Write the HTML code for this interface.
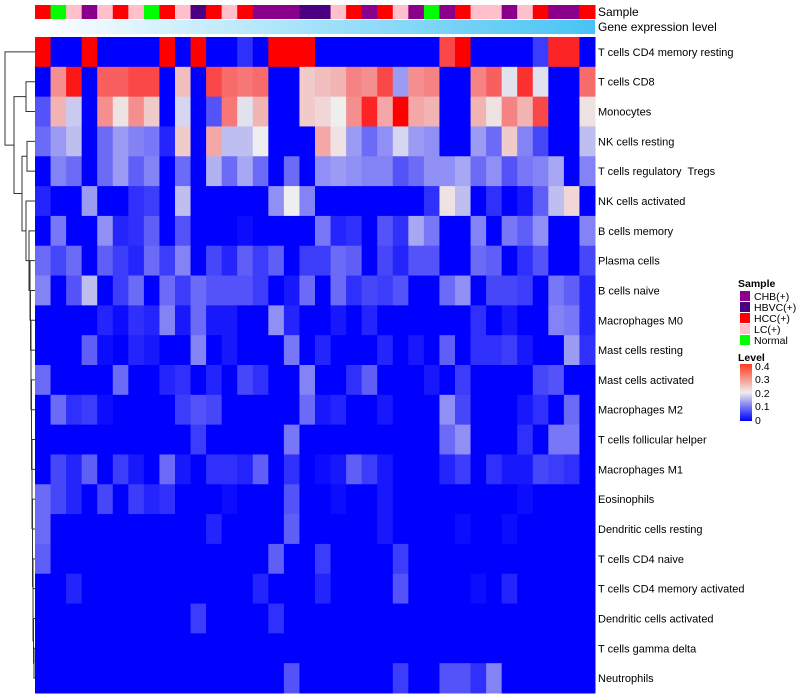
<!DOCTYPE html>
<html><head><meta charset="utf-8"><style>
html,body{margin:0;padding:0;background:#fff;}
svg{display:block;font-family:"Liberation Sans",sans-serif;}
#rowlabels text{white-space:pre;}
</style></head><body>
<svg id="chart" width="800" height="700" viewBox="0 0 800 700">
<defs>
<linearGradient id="geneGrad" x1="0" x2="1" y1="0" y2="0"><stop offset="0" stop-color="#ffffff"/><stop offset="1" stop-color="#48c4f4"/></linearGradient>
<linearGradient id="levelGrad" x1="0" x2="0" y1="1" y2="0"><stop offset="0" stop-color="#0000ff"/><stop offset="0.5" stop-color="#eeeeee"/><stop offset="1" stop-color="#ff3b1f"/></linearGradient>
</defs>
<rect x="35" y="20" width="560" height="14" fill="url(#geneGrad)"/>
<g id="cells"></g>
<g id="samplebar"></g>
<g id="rowlabels"></g>
<g id="dendro" stroke="#333" stroke-width="1" fill="none"></g>
<text x="598" y="16" font-size="12">Sample</text>
<text x="598" y="31" font-size="12">Gene expression level</text>
<g font-size="10.5">
<text x="738" y="287" font-weight="bold">Sample</text>
<rect x="740" y="291" width="10" height="10" fill="#8b008b"/><text x="754" y="300">CHB(+)</text>
<rect x="740" y="302" width="10" height="10" fill="#4b0082"/><text x="754" y="311">HBVC(+)</text>
<rect x="740" y="313" width="10" height="10" fill="#ff0000"/><text x="754" y="322">HCC(+)</text>
<rect x="740" y="324" width="10" height="10" fill="#ffc0cb"/><text x="754" y="333">LC(+)</text>
<rect x="740" y="335" width="10" height="10" fill="#00ff00"/><text x="754" y="344">Normal</text>
<text x="738" y="361" font-weight="bold">Level</text>
<rect x="740" y="364" width="12" height="57" fill="url(#levelGrad)"/>
<text x="755" y="370">0.4</text>
<text x="755" y="383">0.3</text>
<text x="755" y="397">0.2</text>
<text x="755" y="410">0.1</text>
<text x="755" y="424">0</text>
</g>
</svg>
<script>
const rowNames = ["T cells CD4 memory resting","T cells CD8","Monocytes","NK cells resting","T cells regulatory  Tregs","NK cells activated","B cells memory","Plasma cells","B cells naive","Macrophages M0","Mast cells resting","Mast cells activated","Macrophages M2","T cells follicular helper","Macrophages M1","Eosinophils","Dendritic cells resting","T cells CD4 naive","T cells CD4 memory activated","Dendritic cells activated","T cells gamma delta","Neutrophils"];
const sampleGroups = ["HCC","Normal","LC","CHB","LC","HCC","LC","Normal","HCC","LC","HBVC","HCC","LC","HCC","CHB","CHB","CHB","HBVC","HBVC","LC","HCC","CHB","HCC","LC","CHB","Normal","CHB","HCC","LC","LC","CHB","LC","HCC","CHB","CHB","HCC"];
const groupColors = {CHB:"#8b008b",HBVC:"#4b0082",HCC:"#ff0000",LC:"#ffc0cb",Normal:"#00ff00"};
const r00=[.4,0,0,.4,0,0,0,0,.4,0,.4,0,0,.04,0,.4,.4,.4, 0,0,0,0,0,0,0,0,.34,.4,0,0,0,0,.05,.37,.37,0];
const r01=[0,.28,.38,0,.32,.32,.34,.34,0,.24,0,.34,.31,.3,.31,0,0,.23, .24,.25,.29,.28,.34,.13,.28,.29,0,0,.29,.32,.19,.36,.19,0,0,.31];
const r02=[.07,.25,.17,0,.28,.21,.28,.23,0,.18,0,.07,.3,.19,.25,0,0,.23, .22,.2,.28,.37,.26,.4,.26,.25,0,0,.25,.21,.29,.25,.34,0,0,.21];
const r03=[.09,.13,.16,0,.09,.13,.11,.1,.03,.23,0,.26,.16,.16,.2,0,0,0, .26,.21,.13,.09,.12,.18,.13,.12,0,0,.13,.09,.23,.11,.06,0,0,.16];
const r04=[0,.11,.09,0,.09,.13,.08,.11,0,.09,0,.15,.09,.14,.09,0,.09,0, .12,.13,.12,.11,.11,.07,.09,.12,.12,.14,.09,.12,.07,.1,.11,.14,0,.11];
const r05=[.03,0,0,.13,0,0,.04,.05,0,.16,0,0,0,0,0,.12,.2,.11, 0,0,0,0,0,0,0,.04,.21,.16,0,.04,0,.02,.08,.16,.22,0];
const r06=[0,.1,0,0,.12,.03,.04,.08,0,.07,0,0,0,.01,0,0,0,0, .1,.03,.04,0,.07,.04,.14,.1,0,0,.11,0,.1,.08,.12,0,0,.11];
const r07=[.09,.06,.09,0,.08,.05,.03,.09,.05,.11,0,.06,.03,.08,.05,.08,0,.05, .05,.09,.08,0,.06,.03,.07,.07,0,0,.09,.08,0,.04,.07,0,0,.06];
const r08=[.11,0,.07,.16,0,.05,.09,0,.09,.05,.09,.07,.07,.07,.05,0,.02,.09, 0,.09,.04,.06,.05,.07,0,0,.09,.12,0,.06,.06,.05,0,.1,.08,.03];
const r09=[0,0,0,0,.03,.01,.04,.03,.11,.02,.09,.02,.02,0,0,.12,.03,0, 0,.02,0,.03,0,0,0,0,0,0,.04,0,.02,0,0,.11,.1,.03];
const r10=[0,0,0,.08,.01,0,.03,.02,0,0,.11,0,.02,0,0,0,.1,0, .03,0,0,0,.03,0,.02,0,.08,0,.04,.04,.05,.02,0,0,.13,.04];
const r11=[.09,0,0,0,0,.09,0,0,.03,.04,0,.03,0,.06,.04,0,0,.11, 0,0,.04,.08,0,0,0,.02,0,.05,0,0,0,0,.06,.07,0,0];
const r12=[0,.09,.04,.05,.01,0,0,0,0,.05,.07,.06,0,0,0,0,0,.09, .02,.03,0,0,.02,0,0,0,.12,.06,0,0,0,.02,.04,0,.09,0];
const r13=[0,0,0,0,0,0,0,0,0,0,.05,0,0,0,0,0,.1,0, 0,0,0,0,0,0,0,0,.09,.12,0,0,0,.04,0,.1,.1,0];
const r14=[0,.06,.03,.08,0,.05,.02,0,.09,.02,0,.04,.04,.03,.08,0,.04,0, .01,.02,.08,.05,.02,0,0,0,.03,.05,0,.04,.02,.02,.06,.05,.04,0];
const r15=[.09,.06,.03,0,.06,0,.05,.03,.04,0,0,0,.01,0,0,0,.07,0, 0,.01,0,0,.02,0,0,0,0,0,0,0,0,.01,0,0,0,0];
const r16=[.09,0,0,0,0,0,0,0,0,0,0,.03,0,0,0,0,.08,0, 0,0,0,0,.02,0,0,0,0,.01,0,0,.01,0,0,0,0,0];
const r17=[.08,0,0,0,0,0,0,0,0,0,0,0,0,0,0,.08,0,0, .05,0,0,0,0,.05,0,0,0,0,0,0,0,0,0,0,0,0];
const r18=[0,0,.03,0,0,0,0,0,0,0,0,0,0,0,.03,0,0,0, .03,0,0,0,0,.07,0,0,0,0,.01,0,.03,0,0,0,0,0];
const r19=[0,0,0,0,0,0,0,0,0,0,.05,0,0,0,0,.04,0,0, 0,0,0,0,0,0,0,0,0,0,0,0,0,0,0,0,0,0];
const r20=[0,0,0,0,0,0,0,0,0,0,0,0,0,0,0,0,0,0, 0,0,0,0,0,0,0,0,0,0,0,0,0,0,0,0,0,0];
const r21=[0,0,0,0,0,0,0,0,0,0,0,0,0,0,0,0,.07,0, 0,0,0,0,0,.05,0,0,.07,.07,.04,.11,0,0,0,0,0,0];
const values=[r00,r01,r02,r03,r04,r05,r06,r07,r08,r09,r10,r11,r12,r13,r14,r15,r16,r17,r18,r19,r20,r21];

const NS="http://www.w3.org/2000/svg";
const X0=35,X1=595,Y0=37,Y1=693;
const nCol=sampleGroups.length,nRow=rowNames.length;
const cw=(X1-X0)/nCol,rh=(Y1-Y0)/nRow;
const xPos=i=>X0+i*cw;
const yPos=j=>Y0+j*rh;
function colorOf(v){
  const t=Math.max(0,Math.min(0.4,v));
  let r,g,b;
  if(t<=0.2){const f=t/0.2;r=Math.round(0+f*238);g=Math.round(0+f*238);b=Math.round(255-f*17);}
  else{const f=(t-0.2)/0.2;r=Math.round(238+f*17);g=Math.round(238-f*238);b=Math.round(238-f*238);}
  return `rgb(${r},${g},${b})`;
}
function mk(tag,attrs,parent){const e=document.createElementNS(NS,tag);for(const k in attrs)e.setAttribute(k,attrs[k]);parent.appendChild(e);return e;}
const cells=document.getElementById('cells');
values.forEach((row,j)=>row.forEach((v,i)=>{
  const r=mk('rect',{x:xPos(i),y:yPos(j),width:cw+0.5,height:rh+0.5,fill:colorOf(v)},cells);
  
  
}));
const sb=document.getElementById('samplebar');
sampleGroups.forEach((g,i)=>{
  const r=mk('rect',{x:xPos(i),y:5,width:cw+0.5,height:14,fill:groupColors[g]},sb);
  
  
});
const rl=document.getElementById('rowlabels');
rowNames.forEach((n,j)=>{
  const t=mk('text',{x:598,y:yPos(j)+rh/2+4,'font-size':11},rl);
  t.textContent=n;
  
  
});
const dg=document.getElementById('dendro');
function leaf(j){return {y:yPos(j)+rh/2,x:35};}
function join(a,b,x){
  mk('path',{d:`M${a.x} ${a.y}H${x}V${b.y}H${b.x}`},dg);
  return {y:(a.y+b.y)/2,x:x};
}
let tail=leaf(21);
const ladderX=[34,33.5,33,33,32.5,32.5,32,32,31.5,31.5,31,31,30.5,30];
for(let j=20;j>=7;j--){tail=join(leaf(j),tail,ladderX[20-j]);}
const n67=join(leaf(6),tail,29);
const n5=join(leaf(5),n67,26);
const n34=join(leaf(3),leaf(4),27);
const n3=join(n34,n5,22);
const n12=join(leaf(1),leaf(2),26);
const n1=join(n12,n3,14);
join(leaf(0),n1,5);
</script>
</body></html>
